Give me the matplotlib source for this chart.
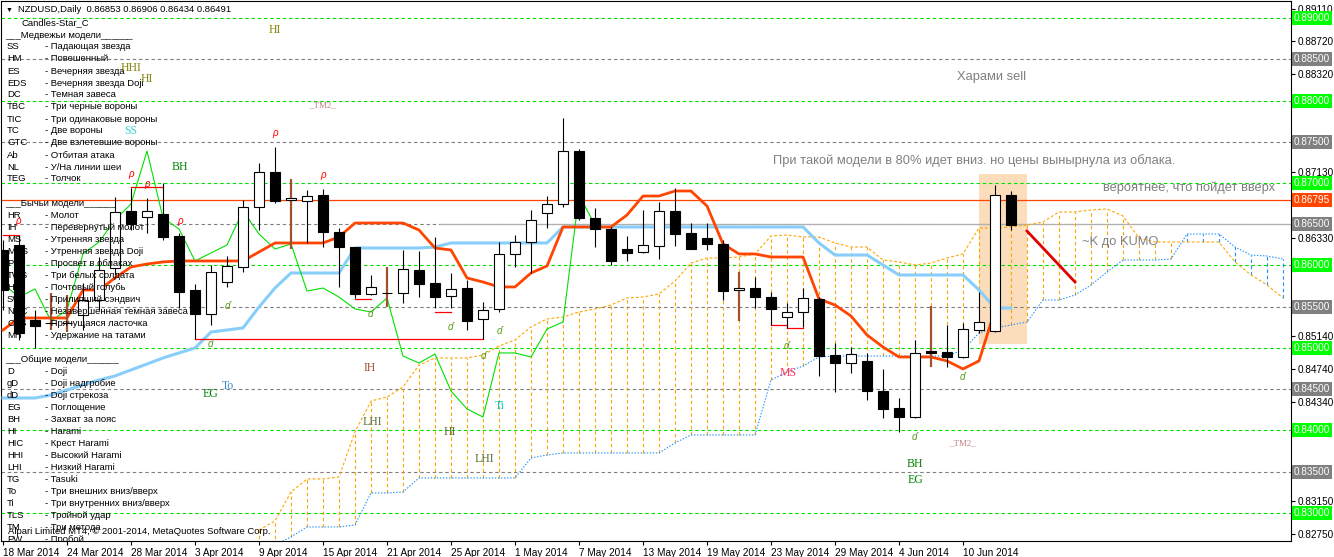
import matplotlib
matplotlib.use('Agg')
import matplotlib.pyplot as plt
from matplotlib.patches import Rectangle

plt.rcParams['font.family'] = ['Liberation Sans', 'DejaVu Sans']
plt.rcParams['lines.scale_dashes'] = False

W, H = 1334, 557

# ---- daily bars, NZDUSD 18 Mar 2014 .. 13 Jun 2014 ----
dates = ['18 Mar 2014', '24 Mar 2014', '28 Mar 2014', '3 Apr 2014', '9 Apr 2014', '15 Apr 2014',
         '21 Apr 2014', '25 Apr 2014', '1 May 2014', '7 May 2014', '13 May 2014', '19 May 2014',
         '23 May 2014', '29 May 2014', '4 Jun 2014', '10 Jun 2014']

opens = [0.86188, 0.86249, 0.85340, 0.85303, 0.85303, 0.85400, 0.85582, 0.85970, 0.86661, 0.86588,
         0.86624, 0.86358, 0.85703, 0.85412, 0.85800, 0.85982, 0.86709, 0.87133, 0.86794, 0.86782,
         0.86855, 0.86406, 0.86224, 0.85655, 0.85667, 0.85667, 0.85946, 0.85788, 0.85630, 0.85727,
         0.85352, 0.85473, 0.86140, 0.86285, 0.86636, 0.86746, 0.87388, 0.86576, 0.86443, 0.86200,
         0.86164, 0.86237, 0.86661, 0.86394, 0.86333, 0.86261, 0.85703, 0.85727, 0.85618, 0.85376,
         0.85437, 0.85594, 0.84915, 0.84818, 0.84843, 0.84479, 0.84273, 0.84164, 0.84964, 0.84952,
         0.84891, 0.85218, 0.85206, 0.86853]
highs = [0.86309, 0.86358, 0.85461, 0.85667, 0.85643, 0.85788, 0.86103, 0.86830, 0.86939, 0.86818,
         0.87000, 0.86394, 0.85776, 0.86006, 0.86115, 0.86794, 0.87242, 0.87436, 0.87049, 0.86915,
         0.86927, 0.86455, 0.86230, 0.85885, 0.85982, 0.86188, 0.86176, 0.86346, 0.85909, 0.85824,
         0.85558, 0.86285, 0.86370, 0.86673, 0.86842, 0.87788, 0.87412, 0.86697, 0.86467, 0.86358,
         0.86673, 0.86770, 0.86939, 0.86515, 0.86515, 0.86309, 0.85921, 0.85861, 0.85679, 0.85546,
         0.85727, 0.85618, 0.85061, 0.85012, 0.84940, 0.84746, 0.84394, 0.85097, 0.85509, 0.85279,
         0.85303, 0.85679, 0.86976, 0.86906]
lows = [0.85461, 0.85097, 0.85000, 0.85218, 0.85194, 0.85218, 0.85461, 0.85885, 0.86430, 0.86394,
        0.86309, 0.85485, 0.85109, 0.85279, 0.85740, 0.85921, 0.86430, 0.86758, 0.86200, 0.86273,
        0.86224, 0.85740, 0.85606, 0.85643, 0.85497, 0.85546, 0.85618, 0.85485, 0.85485, 0.85218,
        0.85109, 0.85437, 0.85982, 0.85909, 0.86455, 0.86709, 0.86552, 0.86224, 0.86006, 0.86055,
        0.86152, 0.86079, 0.86237, 0.86194, 0.86188, 0.85582, 0.85327, 0.85485, 0.85279, 0.85243,
        0.85255, 0.84661, 0.84467, 0.84697, 0.84370, 0.84152, 0.83982, 0.84152, 0.84770, 0.84770,
        0.84879, 0.85182, 0.85190, 0.86434]
closes = [0.85703, 0.85182, 0.85267, 0.85300, 0.85306, 0.85582, 0.85946, 0.86649, 0.86503, 0.86661,
          0.86346, 0.85679, 0.85412, 0.85921, 0.85994, 0.86709, 0.87133, 0.86782, 0.86818, 0.86842,
          0.86406, 0.86224, 0.85655, 0.85740, 0.85670, 0.85958, 0.85776, 0.85618, 0.85715, 0.85327,
          0.85461, 0.86140, 0.86285, 0.86552, 0.86746, 0.87388, 0.86576, 0.86443, 0.86055, 0.86152,
          0.86249, 0.86661, 0.86382, 0.86200, 0.86261, 0.85691, 0.85727, 0.85618, 0.85473, 0.85437,
          0.85606, 0.84903, 0.84818, 0.84927, 0.84479, 0.84261, 0.84164, 0.84940, 0.84940, 0.84891,
          0.85230, 0.85315, 0.86855, 0.86491]
doji_bars = [3, 4, 18, 24, 46, 58]

# ---- Ichimoku ----
tenkan = [0.85218, 0.85364, 0.85364, 0.85364, 0.85364, 0.85703, 0.85703, 0.85849, 0.85982, 0.86018,
          0.86043, 0.86055, 0.86055, 0.86055, 0.86055, 0.86055, 0.86164, 0.86273, 0.86273, 0.86273,
          0.86273, 0.86346, 0.86515, 0.86515, 0.86515, 0.86515, 0.86430, 0.86212, 0.86188, 0.85849,
          0.85800, 0.85740, 0.85740, 0.85909, 0.85994, 0.86467, 0.86467, 0.86467, 0.86467, 0.86612,
          0.86842, 0.86842, 0.86903, 0.86903, 0.86721, 0.86261, 0.86140, 0.86140, 0.86103, 0.86103,
          0.86103, 0.85594, 0.85521, 0.85388, 0.85158, 0.85012, 0.84891, 0.84891, 0.84891, 0.84843,
          0.84746, 0.84843, 0.85461, 0.85461]
kijun = [0.84394, 0.84394, 0.84394, 0.84431, 0.84491, 0.84552, 0.84612, 0.84661, 0.84734, 0.84806,
         0.84879, 0.84940, 0.85000, 0.85194, 0.85218, 0.85243, 0.85497, 0.85727, 0.85909, 0.85909,
         0.85909, 0.85909, 0.86212, 0.86212, 0.86212, 0.86212, 0.86212, 0.86224, 0.86273, 0.86273,
         0.86273, 0.86273, 0.86273, 0.86273, 0.86273, 0.86467, 0.86467, 0.86467, 0.86467, 0.86467,
         0.86467, 0.86467, 0.86467, 0.86467, 0.86467, 0.86467, 0.86467, 0.86467, 0.86467, 0.86467,
         0.86467, 0.86273, 0.86127, 0.86127, 0.86127, 0.86006, 0.85885, 0.85885, 0.85885, 0.85885,
         0.85885, 0.85703, 0.85485, 0.85485]
cloud_start = 16
span_a = [0.82794, 0.82903, 0.83255, 0.83413, 0.83413, 0.83437, 0.83982, 0.84358, 0.84406, 0.84528,
          0.84794, 0.84879, 0.84879, 0.84879, 0.84915, 0.85024, 0.85097, 0.85255, 0.85352, 0.85376,
          0.85437, 0.85473, 0.85521, 0.85606, 0.85618, 0.85655, 0.85812, 0.86030, 0.86091, 0.86091,
          0.86103, 0.86140, 0.86358, 0.86370, 0.86346, 0.86346, 0.86273, 0.86224, 0.86224, 0.86067,
          0.86043, 0.86006, 0.86030, 0.86091, 0.86140, 0.86455, 0.86455, 0.86467, 0.86491, 0.86527,
          0.86649, 0.86649, 0.86673, 0.86685, 0.86600, 0.86333, 0.86285, 0.86285, 0.86285, 0.86285,
          0.86285, 0.86043, 0.85885, 0.85764, 0.85606]
span_b = [0.82613, 0.82613, 0.82710, 0.82831, 0.82831, 0.82831, 0.82855, 0.83243, 0.83243, 0.83255,
          0.83425, 0.83425, 0.83425, 0.83425, 0.83425, 0.83425, 0.83425, 0.83667, 0.83703, 0.83728,
          0.83728, 0.83728, 0.83728, 0.83728, 0.83728, 0.83728, 0.83849, 0.83946, 0.83946, 0.83946,
          0.83946, 0.83946, 0.84612, 0.84709, 0.84782, 0.84891, 0.84903, 0.84903, 0.84903, 0.84903,
          0.84903, 0.84903, 0.84903, 0.84903, 0.84976, 0.85182, 0.85243, 0.85279, 0.85315, 0.85582,
          0.85582, 0.85643, 0.85764, 0.85921, 0.86067, 0.86067, 0.86067, 0.86079, 0.86382, 0.86382,
          0.86382, 0.86224, 0.86127, 0.86115, 0.86079]
chikou_shift = 26

# ---- levels and objects ----
green_levels = [0.89, 0.88, 0.87, 0.86, 0.85, 0.84, 0.83]
grey_levels = [0.885, 0.875, 0.865, 0.855, 0.845, 0.835]
price_line = 0.86795
price_ticks = [0.89110, 0.88720, 0.88320, 0.87920, 0.87530, 0.87130, 0.86730, 0.86330, 0.85930,
               0.85540, 0.85140, 0.84740, 0.84340, 0.83940, 0.83540, 0.83150, 0.82750]
red_marks = [(8, 10, 0.86952), (12, 30, 0.85109), (22, 23, 0.85594), (27, 28, 0.85437),
             (48, 49, 0.85279), (49, 50, 0.85243), (0, 1, 0.86370)]
trend_line = ([64, 67], [0.86418, 0.85800])
zone = (61, 64, 0.85049, 0.87109)

bear_codes = ['SS', 'HM', 'ES', 'EDS', 'DC', 'TBC', 'TIC', 'TC', 'GTC', 'Ab', 'NL', 'TEG']
bear_names = ['Падающая звезда', 'Повешенный', 'Вечерняя звезда', 'Вечерняя звезда Doji',
              'Темная завеса', 'Три черные вороны', 'Три одинаковые вороны', 'Две вороны',
              'Две взлетевшие вороны', 'Отбитая атака', 'У/На линии шеи', 'Толчок']
bull_codes = ['HR', 'IH', 'MS', 'MDS', 'PL', 'TWS', 'HP', 'SW', 'NDC', 'CBS', 'MH']
bull_names = ['Молот', 'Перевернутый молот', 'Утренняя звезда', 'Утренняя звезда Doji',
              'Просвет в облаках', 'Три белых солдата', 'Почтовый голубь', 'Прилипший сэндвич',
              'Незавершенная темная завеса', 'Прячущаяся ласточка', 'Удержание на татами']
common_codes = ['D', 'gD', 'dD', 'EG', 'BH', 'HI', 'HIC', 'HHI', 'LHI', 'TG', 'To', 'Ti', 'TLS',
                'TM', 'PW']
common_names = ['Doji', 'Doji надгробие', 'Doji стрекоза', 'Поглощение', 'Захват за пояс', 'Harami',
                'Крест Harami', 'Высокий Harami', 'Низкий Harami', 'Tasuki',
                'Три внешних вниз/вверх', 'Три внутренних вниз/вверх', 'Тройной удар',
                'Три метода', 'Пробой']


def at(px, py):
    # screen pixel -> (bar, price)
    return (px - 3) / 16.0, 0.89 - (py - 18) / 8250.0


fig = plt.figure(figsize=(W / 100, H / 100), dpi=100)
ax = fig.add_axes([1 / W, 16 / H, 1290 / W, 540 / H])
ax.set_xlim(at(1, 0)[0], at(1291, 0)[0])
ax.set_ylim(at(0, 541)[1], at(0, 1)[1])

# levels
for lv in green_levels:
    ax.axhline(lv, color='#00E000', lw=0.8, ls=(0, (2.5, 2)), zorder=1)
for lv in grey_levels:
    ax.axhline(lv, color='#808080', lw=0.8, ls=(0, (2.5, 2)), zorder=1)
ax.axhline(price_line, color='#FF4500', lw=0.9, zorder=1)
ax.plot([at(440, 0)[0], 81], [0.865, 0.865], color='#B0B0B0', lw=0.9, zorder=1)

ax.add_patch(Rectangle((zone[0] - 0.02, zone[2]), zone[1] - zone[0], zone[3] - zone[2],
                       fc='#FBDDBB', ec='none', zorder=0.8))

# cloud
xs = list(range(cloud_start, cloud_start + len(span_a)))
for x, a, b in zip(xs, span_a, span_b):
    c = '#FFA500' if a >= b else '#1E90FF'
    ax.vlines(x, min(a, b), max(a, b), colors=c, lw=0.8, linestyles=(0, (2.5, 2)), zorder=2)
ax.plot(xs, span_a, color='#FFA500', lw=0.8, ls=(0, (2, 1.5)), zorder=2)
ax.plot(xs, span_b, color='#1E90FF', lw=0.8, ls=(0, (1, 1.2)), zorder=2)

# lines
bars = range(len(closes))
ax.plot(bars, kijun, color='#87CEFA', lw=2.2, zorder=3)
ax.plot(list(bars)[:-1], tenkan[:-1], color='#FF4500', lw=2.0, zorder=3.1)
chikou = closes[chikou_shift:]
ax.plot(range(len(chikou)), chikou, color='#00E000', lw=0.8, zorder=3)
for x0, x1, lv in red_marks:
    ax.plot([x0, x1], [lv, lv], color='#FF0000', lw=0.9, zorder=3)
ax.plot(trend_line[0], trend_line[1], color='#E00000', lw=2.0, zorder=3)

# candles
for i in bars:
    o, h, l, c = opens[i], highs[i], lows[i], closes[i]
    if i in doji_bars:
        ax.vlines(i, l, h, colors='#A0522D', lw=1.6, zorder=4)
    else:
        ax.vlines(i, l, h, colors='black', lw=0.8, zorder=4)
    bottom = min(o, c)
    hgt = max(abs(c - o), 0.00003)
    ax.add_patch(Rectangle((i - 0.31, bottom), 0.62, hgt, fc='white' if c >= o else 'black',
                           ec='black', lw=0.8, zorder=4.1))

# legend block
txt = dict(fontsize=6.8, color='black', va='center', ha='left', zorder=6, clip_on=True)
ax.text(*at(18, 10), 'NZDUSD,Daily  0.86853 0.86906 0.86434 0.86491', **txt)
ax.text(*at(6, 10), '▼', fontsize=5, color='black', va='center', ha='left', zorder=6)
ax.text(*at(22, 23), 'Candles-Star_C', **txt)
ax.text(*at(5, 35), '___Медвежьи модели______', **txt)
for n, (cd, nm) in enumerate(zip(bear_codes, bear_names)):
    ax.text(*at(7, 47 + 12 * n), cd, **txt)
    ax.text(*at(45, 47 + 12 * n), '- ' + nm, **txt)
ax.text(*at(5, 203), '___Бычьи модели______', **txt)
for n, (cd, nm) in enumerate(zip(bull_codes, bull_names)):
    ax.text(*at(7, 216 + 12 * n), cd, **txt)
    ax.text(*at(45, 216 + 12 * n), '- ' + nm, **txt)
ax.text(*at(5, 360), '___Общие модели______', **txt)
for n, (cd, nm) in enumerate(zip(common_codes, common_names)):
    ax.text(*at(7, 372 + 12 * n), cd, **txt)
    ax.text(*at(45, 372 + 12 * n), '- ' + nm, **txt)
ax.text(*at(8, 532), 'Alpari Limited MT4, © 2001-2014, MetaQuotes Software Corp.', **txt)

# pattern labels on chart
pattern_labels = [('HI', 275, 30, '#808000'), ('HHI', 131, 68, '#808000'), ('HI', 147, 79, '#808000'),
                  ('_TM2_', 322, 105, '#C08080'), ('SS', 131, 131, '#40D0D0'), ('BH', 180, 167, '#008000'),
                  ('IH', 370, 368, '#A0522D'), ('To', 228, 386, '#3C8DC8'), ('EG', 210, 394, '#008000'),
                  ('Ti', 500, 406, '#00CED1'), ('LHI', 372, 422, '#556B2F'), ('HI', 450, 432, '#556B2F'),
                  ('LHI', 484, 459, '#556B2F'), ('MS', 788, 373, '#FF3060'), ('_TM2_', 962, 443, '#C08080'),
                  ('BH', 915, 464, '#008000'), ('EG', 915, 480, '#008000')]
for t, px, py, col in pattern_labels:
    fs = 6.5 if 'TM' in t else 8.5
    ax.text(*at(px, py), t, fontsize=fs, color=col, family='Liberation Serif',
            ha='center', va='center', zorder=6)

red_signs = [(275, 133), (131, 174), (147, 184), (323, 175), (18, 221), (180, 221)]
green_signs = [(227, 306), (210, 344), (370, 314), (450, 327), (499, 331), (483, 356),
               (786, 346), (914, 437), (962, 377)]
for px, py in red_signs:
    ax.text(*at(px, py), 'ρ', fontsize=7, color='red', ha='center', va='center',
            style='italic', zorder=6)
for px, py in green_signs:
    ax.text(*at(px, py), 'ɗ', fontsize=7, color='#5A9A20', ha='center', va='center',
            style='italic', zorder=6)

notes = [('Харами sell', 957, 77), ('При такой модели в 80% идет вниз. но цены вынырнула из облака.', 773, 161),
         ('вероятнее, что пойдет вверх', 1103, 188), ('~K до KUMO', 1082, 242)]
for t, px, py in notes:
    ax.text(*at(px, py), t, fontsize=9.3, color='#808080', ha='left', va='center', zorder=6)

# axes
boxed = green_levels + grey_levels + [price_line]
ax.yaxis.tick_right()
ax.set_yticks(price_ticks)
ax.set_yticklabels(['' if min(abs(v - b) for b in boxed) < 0.001 else '%.5f' % v
                    for v in price_ticks])
ax.set_xticks(range(0, 4 * len(dates), 4))
ax.set_xticklabels(dates)
for lab in ax.get_xticklabels():
    lab.set_horizontalalignment('left')
ax.tick_params(axis='both', labelsize=7.2, length=3, width=0.8, pad=2, colors='black')
for sp in ax.spines.values():
    sp.set_color('black')
    sp.set_linewidth(0.8)


def box_label(lv, col):
    ax.annotate('%.5f' % lv, xy=(1, lv), xycoords=('axes fraction', 'data'), xytext=(2, 0),
                textcoords='offset points', ha='left', va='center', fontsize=7.2, color='white',
                bbox=dict(boxstyle='square,pad=0.2', fc=col, ec='none'),
                annotation_clip=False, zorder=10)


for lv in green_levels:
    box_label(lv, '#00FF00')
for lv in grey_levels:
    box_label(lv, '#808080')
box_label(price_line, '#FF4500')

fig.savefig('out.png', dpi=100, facecolor='white')
